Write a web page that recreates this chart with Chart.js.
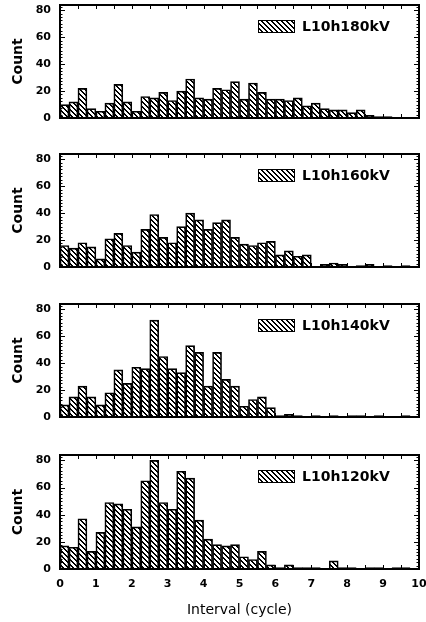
<!DOCTYPE html>
<html>
<head>
<meta charset="utf-8">
<script src="https://cdn.jsdelivr.net/npm/chart.js@4.4.0/dist/chart.umd.min.js"></script>
<style>
  html, body { margin: 0; padding: 0; background: #fff; }
  #wrap { position: relative; width: 426px; height: 622px; }
  canvas { position: absolute; left: 0; }
</style>
</head>
<body>
<div id="wrap">
  <canvas id="c180" width="426" height="150" style="top:0"></canvas>
  <canvas id="c160" width="426" height="150" style="top:149px"></canvas>
  <canvas id="c140" width="426" height="150" style="top:299px"></canvas>
  <canvas id="c120" width="426" height="172" style="top:450px"></canvas>
</div>
<script>
// bin centres (cycle), 0.25 wide bins
const binCenters = [0.125, 0.375, 0.625, 0.875, 1.125, 1.375, 1.625, 1.875, 2.125, 2.375,
                    2.625, 2.875, 3.125, 3.375, 3.625, 3.875, 4.125, 4.375, 4.625, 4.875,
                    5.125, 5.375, 5.625, 5.875, 6.125, 6.375, 6.625, 6.875, 7.125, 7.375,
                    7.625, 7.875, 8.125, 8.375, 8.625, 8.875, 9.125, 9.375, 9.625, 9.875];

const count180 = [10, 12, 22, 7, 5, 11, 25, 12, 5, 16, 15, 19, 13, 20, 29, 15, 14, 22, 21, 27,
                  14, 26, 19, 14, 14, 13, 15, 9, 11, 7, 6, 6, 4, 6, 2, 1, 1, 0, 0, 0];
const count160 = [16, 14, 18, 15, 6, 21, 25, 16, 11, 28, 39, 22, 18, 30, 40, 35, 28, 33, 35, 22,
                  17, 16, 18, 19, 9, 12, 8, 9, 0, 2, 3, 2, 0, 1, 2, 0, 1, 0, 1, 0];
const count140 = [9, 15, 23, 15, 9, 18, 35, 25, 37, 36, 72, 45, 36, 33, 53, 48, 23, 48, 28, 23,
                  8, 13, 15, 7, 1, 2, 1, 0, 1, 0, 1, 0, 1, 1, 0, 1, 0, 0, 1, 0];
const count120 = [17, 16, 37, 13, 27, 49, 48, 44, 31, 65, 80, 49, 44, 72, 67, 36, 22, 18, 17, 18,
                  9, 7, 13, 3, 1, 3, 1, 1, 1, 0, 6, 1, 1, 0, 1, 1, 0, 1, 1, 0];

const xTicks = [0, 1, 2, 3, 4, 5, 6, 7, 8, 9, 10];
const yTicks = [0, 20, 40, 60, 80];

// crisp "\" hatch fill, 2px stripes every 5px
function makeHatch() {
    const t = document.createElement('canvas');
    t.width = 5; t.height = 5;
    const g = t.getContext('2d');
    g.fillStyle = '#000';
    for (let i = 0; i < 5; i++) {
        g.fillRect(i, i, 1, 1);
        g.fillRect((i + 1) % 5, i, 1, 1);
    }
    return g.createPattern(t, 'repeat');
}
const hatch = makeHatch();

const tickFont = { family: 'DejaVu Sans', size: 11, weight: 'bold' };

// frame with inward ticks + boxed legend inside plot
const frameTicks = {
    id: 'frameTicks',
    afterDatasetsDraw(chart) {
        const { ctx, chartArea: a, scales: { x, y } } = chart;
        ctx.save();
        ctx.strokeStyle = '#000';
        ctx.lineWidth = 1;
        ctx.beginPath();
        for (let v = 0; v <= 10; v += 0.5) {
            const px = Math.round(x.getPixelForValue(v)) + 0.5;
            ctx.moveTo(px, a.top); ctx.lineTo(px, a.top + 4);
            ctx.moveTo(px, a.bottom); ctx.lineTo(px, a.bottom - 4);
        }
        for (let v = 0; v <= 84; v += 2.5) {
            const py = Math.round(y.getPixelForValue(v)) + 0.5;
            const len = v % 20 === 0 ? 5 : 2.5;
            ctx.moveTo(a.left, py); ctx.lineTo(a.left + len, py);
            ctx.moveTo(a.right, py); ctx.lineTo(a.right - len, py);
        }
        ctx.stroke();
        ctx.lineWidth = 2;
        ctx.strokeRect(a.left, a.top, a.right - a.left, a.bottom - a.top);

        const ds = chart.data.datasets[0];
        const bx = Math.round(a.right - 161), by = Math.round(a.top + 15);
        ctx.fillStyle = ds.backgroundColor;
        ctx.fillRect(bx, by, 36, 12);
        ctx.lineWidth = 1;
        ctx.strokeRect(bx + 0.5, by + 0.5, 36, 12);
        ctx.fillStyle = '#000';
        ctx.font = 'bold 14px "DejaVu Sans"';
        ctx.textBaseline = 'middle';
        ctx.fillText(ds.label, bx + 44, by + 7);
        ctx.restore();
    }
};

function makePanel(id, label, counts, showX) {
    return new Chart(document.getElementById(id), {
        type: 'bar',
        data: {
            datasets: [{
                label: label,
                data: binCenters.map((c, i) => ({ x: c, y: counts[i] })),
                backgroundColor: hatch,
                borderColor: '#000',
                borderWidth: 1,
                barPercentage: 1,
                categoryPercentage: 1
            }]
        },
        options: {
            responsive: false,
            animation: false,
            layout: { padding: { top: 5, right: 7, left: 0, bottom: showX ? 0 : 32 } },
            plugins: { legend: { display: false }, tooltip: { enabled: false } },
            scales: {
                x: {
                    type: 'linear',
                    min: 0,
                    max: 10,
                    offset: false,
                    display: showX,
                    grid: { display: false, drawTicks: false, offset: false },
                    border: { display: false },
                    afterBuildTicks(s) { s.ticks = xTicks.map(v => ({ value: v })); },
                    ticks: { padding: 9, font: tickFont, color: '#000', maxRotation: 0, autoSkip: false },
                    title: {
                        display: true,
                        text: 'Interval (cycle)',
                        color: '#000',
                        font: { family: 'DejaVu Sans', size: 14 },
                        padding: { top: 10, bottom: 3 }
                    },
                    afterFit(s) {
                        s.paddingLeft = 0;
                        s.paddingRight = 0;
                        s.height = showX ? 53 : 0;
                    }
                },
                y: {
                    min: 0,
                    max: 84,
                    grid: { display: false, drawTicks: false },
                    border: { display: false },
                    afterBuildTicks(s) { s.ticks = yTicks.map(v => ({ value: v })); },
                    ticks: { padding: 9, font: tickFont, color: '#000' },
                    title: {
                        display: true,
                        text: 'Count',
                        color: '#000',
                        font: { family: 'DejaVu Sans', size: 14, weight: 'bold' },
                        padding: { top: 10, bottom: 0 }
                    },
                    afterFit(s) { s.width = 60; s.paddingTop = 0; s.paddingBottom = 0; }
                }
            }
        },
        plugins: [frameTicks]
    });
}

makePanel('c180', 'L10h180kV', count180, false);
makePanel('c160', 'L10h160kV', count160, false);
makePanel('c140', 'L10h140kV', count140, false);
makePanel('c120', 'L10h120kV', count120, true);
</script>
</body>
</html>
